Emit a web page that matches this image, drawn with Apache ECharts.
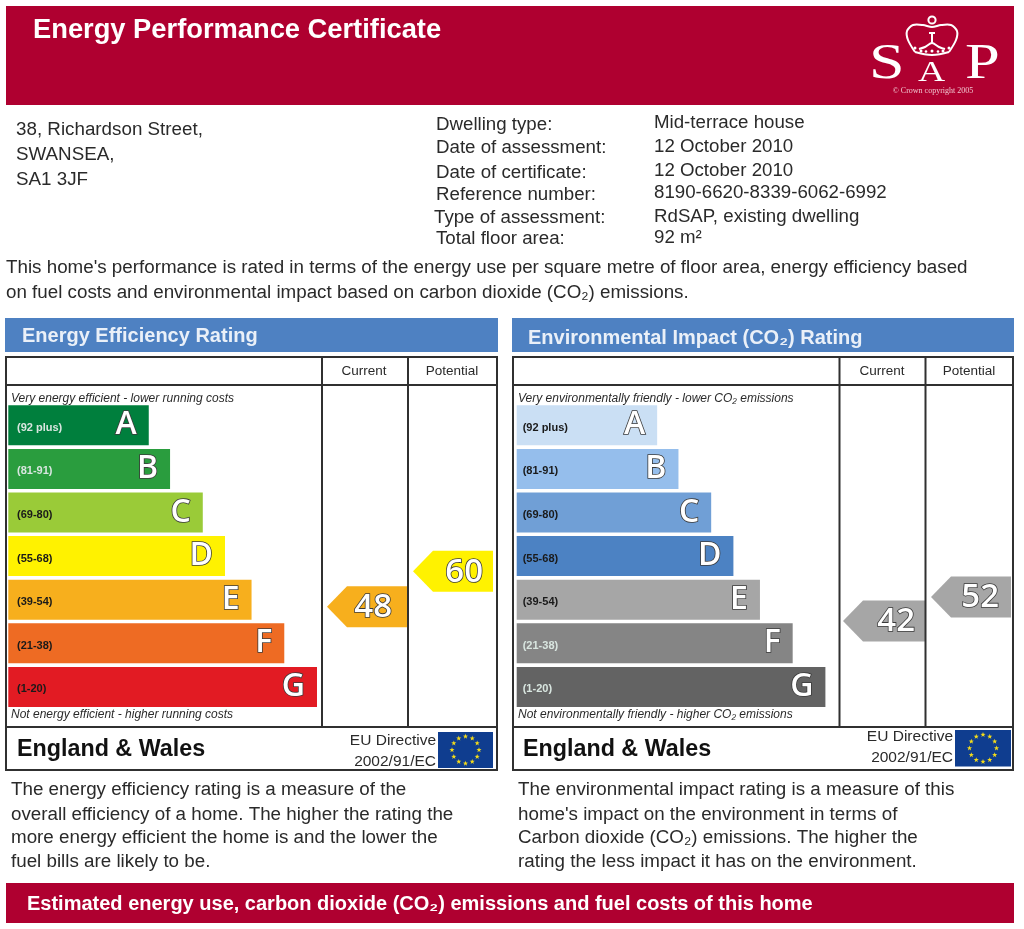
<!DOCTYPE html>
<html><head><meta charset="utf-8"><title>Energy Performance Certificate</title>
<style>html,body{margin:0;padding:0;background:#fff}#c{width:1024px;height:929px}</style>
<script src="https://cdn.jsdelivr.net/npm/echarts@6/dist/echarts.min.js"></script></head>
<body><div id="c"></div>
<script>
// ---- chart data ----
const bandLetters = ['A','B','C','D','E','F','G'];
const rangeLabels = ['(92 plus)','(81-91)','(69-80)','(55-68)','(39-54)','(21-38)','(1-20)'];
const bandMinRating = [92,81,69,55,39,21,1];
const barLengths = [45.5,52.4,63,70.2,78.8,89.4,100];
const efficiencyColors = ['#007F3D','#2A9D3E','#9ACB38','#FFF200','#F7AF1D','#EE6B23','#E21B23'];
const impactColors = ['#CADFF4','#95BEEC','#709FD6','#4C82C3','#A6A6A6','#858585','#636363'];
const ratingColumns = ['Current','Potential'];
const efficiencyRatings = [48,60];
const impactRatings = [42,52];
// ---- text ----
const addressLines = ['38, Richardson Street,','SWANSEA,','SA1 3JF'];
const detailLabels = ['Dwelling type:','Date of assessment:','Date of certificate:','Reference number:','Type of assessment:','Total floor area:'];
const detailValues = ['Mid-terrace house','12 October 2010','12 October 2010','8190-6620-8339-6062-6992','RdSAP, existing dwelling','92 m²'];
const introLines = ["This home's performance is rated in terms of the energy use per square metre of floor area, energy efficiency based",'on fuel costs and environmental impact based on carbon dioxide (CO₂) emissions.'];
const efficiencyNotes = ['The energy efficiency rating is a measure of the','overall efficiency of a home. The higher the rating the','more energy efficient the home is and the lower the','fuel bills are likely to be.'];
const impactNotes = ['The environmental impact rating is a measure of this',"home's impact on the environment in terms of",'Carbon dioxide (CO₂) emissions. The higher the','rating the less impact it has on the environment.'];

const SANS='"Liberation Sans",Arial,sans-serif', SERIF='"Liberation Serif",serif', INK='#2a2a2a';
const txt=(x,y,text,size,o={})=>({type:'text',x,y:y+(o.family?0:1),scaleX:o.scaleX||1,z:20,silent:true,style:{text,fontSize:size,fontFamily:o.family||SANS,
  fontWeight:o.weight||'normal',fontStyle:o.italic?'italic':'normal',fill:o.fill||INK,textAlign:o.align||'left',textVerticalAlign:'middle'}});
const rect=(x,y,w,h,fill)=>({type:'rect',z:1,silent:true,shape:{x,y,width:w,height:h},style:{fill}});
const line=(x1,y1,x2,y2)=>({type:'line',z:15,silent:true,shape:{x1,y1,x2,y2},style:{stroke:'#303030',lineWidth:2}});
const box=(x,y,w,h)=>({type:'rect',z:15,silent:true,shape:{x,y,width:w,height:h},style:{fill:'none',stroke:'#303030',lineWidth:2}});

function flag(x,y,w,h){
  const els=[{type:'rect',z:16,silent:true,shape:{x,y,width:w,height:h},style:{fill:'#0F3D8F'}}];
  const cx=x+w/2,cy=y+h/2;
  for(let i=0;i<12;i++){
    const a=i*Math.PI/6,sx=cx+13.5*Math.sin(a),sy=cy-13.5*Math.cos(a),pts=[];
    for(let k=0;k<10;k++){const r=k%2?1.1:2.7,t=k*Math.PI/5;pts.push([sx+r*Math.sin(t),sy-r*Math.cos(t)]);}
    els.push({type:'polygon',z:17,silent:true,shape:{points:pts},style:{fill:'#F5DC1A'}});
  }
  return els;
}
function crown(){
  const st={fill:'none',stroke:'#fff',lineWidth:2};
  const pl=(points,smooth)=>({type:'polyline',z:20,silent:true,shape:{points,smooth:smooth||0},style:st});
  const dot=(cx,cy,r)=>({type:'circle',z:20,silent:true,shape:{cx,cy,r},style:{fill:'#fff'}});
  return [
    {type:'circle',z:20,silent:true,shape:{cx:932,cy:20,r:3.6},style:st},
    pl([[915,52],[908,40],[907,31],[913,25],[923,25],[932,27],[941,25],[951,25],[957,31],[956,40],[949,52]],0.3),
    pl([[915,52],[932,55],[949,52]],0.4),
    pl([[932,33],[932,44]]),pl([[929,33],[935,33]]),
    pl([[919,49],[925,47],[932,43],[939,47],[945,49]],0.3),
    dot(915,48,1.5),dot(921,51,1.5),dot(932,51,1.5),dot(943,51,1.5),dot(949,48,1.5),dot(926,51.5,1.3),dot(938,51.5,1.3)
  ];
}

const graphic=[
  rect(6,6,1008,99,'#AF0030'),
  txt(33,29,'Energy Performance Certificate',27.3,{weight:'bold',fill:'#fff'}),
  txt(869,65,'S',50,{family:SERIF,scaleX:1.28,fill:'#fff'}),txt(918,73,'A',29,{family:SERIF,scaleX:1.3,fill:'#fff'}),txt(965,65,'P',50,{family:SERIF,scaleX:1.25,fill:'#fff'}),
  txt(933,91,'© Crown copyright 2005',8,{family:SERIF,fill:'#F0C4CF',align:'center'}),
  ...crown(),
  ...addressLines.map((t,i)=>txt(16,[129,154,179][i],t,18.8)),
  ...detailLabels.map((t,i)=>txt(i===4?434:436,[124,147,172,194,217,238][i],t,18.7)),
  ...detailValues.map((t,i)=>txt(654,[122,146,170,192,216,237][i],t,18.7)),
  ...introLines.map((t,i)=>txt(6,[267,292][i],t,18.8)),
  rect(5,318,493,34,'#4E81C2'),rect(512,318,502,34,'#4E81C2'),
  txt(22,335,'Energy Efficiency Rating',20,{weight:'bold',fill:'#EAF0F8'}),
  txt(528,337,'Environmental Impact (CO₂) Rating',20,{weight:'bold',fill:'#EAF0F8'}),
  box(6,357,491,413),line(6,385,497,385),line(6,727,497,727),line(322,357,322,727),line(408,357,408,727),
  box(513,357,500,413),line(513,385,1013,385),line(513,727,1013,727),line(839.5,357,839.5,727),line(925.5,357,925.5,727),
  txt(11,398,'Very energy efficient - lower running costs',12,{italic:true}),
  txt(11,714,'Not energy efficient - higher running costs',12,{italic:true}),
  txt(518,398,'Very environmentally friendly - lower CO₂ emissions',12,{italic:true}),
  txt(518,714,'Not environmentally friendly - higher CO₂ emissions',12,{italic:true}),
  txt(17,749,'England & Wales',23.3,{weight:'bold',fill:'#111'}),
  txt(523,749,'England & Wales',23.3,{weight:'bold',fill:'#111'}),
  txt(436,740,'EU Directive',15.5,{align:'right'}),txt(436,761,'2002/91/EC',15.5,{align:'right'}),
  txt(953,736,'EU Directive',15.5,{align:'right'}),txt(953,757,'2002/91/EC',15.5,{align:'right'}),
  ...flag(438,732,55,36),...flag(955,730,56,36.5),
  ...efficiencyNotes.map((t,i)=>txt(11,[789,814,837,861][i],t,18.8)),
  ...impactNotes.map((t,i)=>txt(518,[789,814,837,861][i],t,18.8)),
  rect(6,883,1008,40,'#AF0030'),
  txt(27,903,'Estimated energy use, carbon dioxide (CO₂) emissions and fuel costs of this home',20,{weight:'bold',fill:'#fff'})
];

const colorForRating=(r,colors)=>colors[bandMinRating.findIndex(m=>r>=m)];

function panel(idx,o){
  const g=idx*2, bars=g, rate=g+1;
  return {
    grid:[{left:o.barLeft,width:308.7,top:403.5,height:305.2},{left:o.colLeft,width:o.colWidth,top:385,height:342}],
    xAxis:[{gridIndex:bars,type:'value',min:0,max:100,show:false},
      {gridIndex:rate,type:'category',position:'top',data:ratingColumns,axisLine:{show:false},axisTick:{show:false},
       axisLabel:{margin:7,fontSize:13.5,fontFamily:SANS,color:INK}}],
    yAxis:[{gridIndex:bars,type:'category',inverse:true,data:rangeLabels,z:6,axisLine:{show:false},axisTick:{show:false},
       axisLabel:{inside:true,margin:o.labelMargin,fontSize:11,fontWeight:'bold',fontFamily:SANS,verticalAlign:'top',lineHeight:5,
         color:(v,i)=>o.lightBands.includes(i)?'#D9E6E0':'#1a1a1a'}},
      {gridIndex:rate,type:'value',min:o.rateMin,max:o.rateMax,show:false}],
    series:[{type:'bar',xAxisIndex:bars,yAxisIndex:bars,barWidth:40,silent:true,
       data:barLengths.map((v,i)=>({value:v,itemStyle:{color:o.colors[i]}})),
       label:{show:true,position:'insideRight',distance:12,formatter:p=>bandLetters[p.dataIndex],
         fontFamily:'"Open Sans"',fontWeight:600,fontSize:32,color:'#fff',textBorderColor:'#3a3a3a',textBorderWidth:1.6}},
      {type:'custom',xAxisIndex:rate,yAxisIndex:rate,silent:true,clip:false,z:5,
       data:o.ratings.map((r,i)=>[i,r]),
       renderItem:(p,api)=>{
         const col=api.value(0),r=api.value(1),c=api.coord([col,r]),e=o.edges[col];
         const l=c[0]+e[0],R=c[0]+e[1],y=c[1],h=20.5;
         return {type:'group',children:[
           {type:'polygon',shape:{points:[[l,y],[l+20,y-h],[R,y-h],[R,y+h],[l+20,y+h]]},style:{fill:colorForRating(r,o.arrowColors)}},
           {type:'text',style:{text:String(r),x:R-o.textGap[col],y:y+1,textAlign:'right',textVerticalAlign:'middle',
             fontFamily:'"Open Sans"',fontWeight:600,fontSize:33,fill:'#fff',stroke:'#3a3a3a',lineWidth:1.6,strokeFirst:true}}
         ]};
       }}]
  };
}
const left=panel(0,{barLeft:8.3,colLeft:320,colWidth:176,labelMargin:8.7,lightBands:[0,1],colors:efficiencyColors,arrowColors:efficiencyColors,
  ratings:efficiencyRatings,rateMin:7.2,rateMax:123.2,edges:[[-37,44],[-39,41]],textGap:[16,10]});
const right=panel(1,{barLeft:516.7,colLeft:838.5,colWidth:174,labelMargin:6,lightBands:[5,6],colors:impactColors,arrowColors:impactColors.map(()=>'#A6A6A6'),
  ratings:impactRatings,rateMin:-2.17,rateMax:140.3,edges:[[-39,43],[-38,42]],textGap:[10,12]});

const chart=echarts.init(document.getElementById('c'),null,{renderer:'canvas'});
chart.setOption({animation:false,backgroundColor:'#fff',graphic:{elements:graphic},
  grid:[...left.grid,...right.grid],xAxis:[...left.xAxis,...right.xAxis],yAxis:[...left.yAxis,...right.yAxis],
  series:[...left.series,...right.series]});
</script></body></html>
